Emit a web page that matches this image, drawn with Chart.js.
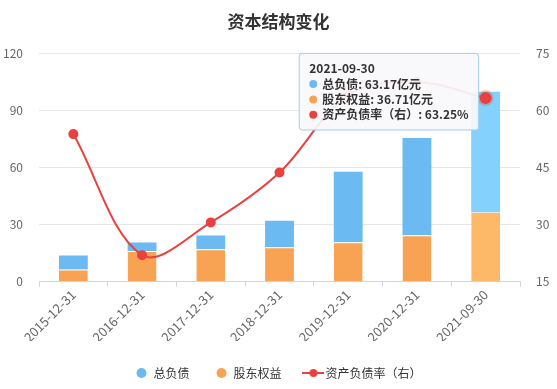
<!DOCTYPE html>
<html>
<head>
<meta charset="utf-8">
<script src="https://cdn.jsdelivr.net/npm/chart.js@4/dist/chart.umd.min.js"></script>
<style>
  html, body { margin: 0; padding: 0; background: #fff; }
  #box { width: 557px; height: 389px; }
</style>
</head>
<body>
<div id="box"><canvas id="myChart"></canvas></div>
<script>
// данные с картинки
const labels = ['2015-12-31', '2016-12-31', '2017-12-31', '2018-12-31', '2019-12-31', '2020-12-31', '2021-09-30'];
const debt = [7.4, 4.4, 7.2, 13.9, 37.0, 51.1, 63.17];       // 总负债, 亿元
const equity = [6.4, 16.2, 17.1, 18.2, 20.8, 24.5, 36.71];   // 股东权益, 亿元
const ratio = [53.8, 22.0, 30.6, 43.7, 64.0, 67.5, 63.25];   // 资产负债率, %
const leftTicks = [0, 30, 60, 90, 120];
const rightTicks = [15, 30, 45, 60, 75];

const font = '"Noto Sans CJK SC", "Microsoft YaHei", sans-serif';
const legendOrder = ['总负债', '股东权益', '资产负债率（右）'];

// значок для легенды линии: линия с точкой
const lineIcon = document.createElement('canvas');
lineIcon.width = 22;
lineIcon.height = 10;
(function () {
   const c = lineIcon.getContext('2d');
   c.strokeStyle = '#e8413f';
   c.lineWidth = 2;
   c.beginPath();
   c.moveTo(0, 5);
   c.lineTo(22, 5);
   c.stroke();
   c.fillStyle = '#e8413f';
   c.beginPath();
   c.arc(11, 5, 4, 0, Math.PI * 2);
   c.fill();
})();

// тултип прижат к верху области графика, слева от точки
Chart.Tooltip.positioners.fixedTop = function (items) {
   if (!items.length) return false;
   const pt = items[items.length - 1].element;
   return { x: pt.x - 10, y: this.chart.chartArea.top };
};

const ctx = document.getElementById('myChart').getContext('2d');

const chart = new Chart(ctx, {
   type: 'bar',
   data: {
      labels: labels,
      datasets: [
         {
            label: '股东权益',
            data: equity,
            backgroundColor: '#f8a254',
            hoverBackgroundColor: '#fdb868',
            borderColor: '#ffffff',
            borderWidth: { top: 1, left: 0, right: 0, bottom: 0 },
            borderSkipped: false,
            stack: 's',
            yAxisID: 'y',
            order: 1,
            barPercentage: 0.42,
            categoryPercentage: 1
         },
         {
            label: '总负债',
            data: debt,
            backgroundColor: '#6bbaf1',
            hoverBackgroundColor: '#85d1fd',
            borderWidth: 0,
            stack: 's',
            yAxisID: 'y',
            order: 1,
            barPercentage: 0.42,
            categoryPercentage: 1
         },
         {
            type: 'line',
            label: '资产负债率（右）',
            data: ratio,
            yAxisID: 'y1',
            borderColor: '#e8413f',
            backgroundColor: '#e8413f',
            borderWidth: 2,
            tension: 0.35,
            pointRadius: 4,
            pointHoverRadius: 6,
            pointHoverBorderWidth: 4,
            pointHoverBorderColor: 'rgba(232,65,63,0.3)',
            pointHoverBackgroundColor: '#e8413f',
            order: 0
         }
      ]
   },
   options: {
      responsive: true,
      maintainAspectRatio: false,
      animation: false,
      events: [],
      layout: { padding: 0 },
      scales: {
         x: {
            stacked: true,
            afterFit: (axis) => { axis.height -= 4; },
            grid: {
               display: true,
               drawOnChartArea: false,
               color: '#ccd6eb',
               tickLength: 5,
               offset: true
            },
            border: { color: '#ccd6eb' },
            ticks: {
               color: '#666',
               font: { family: font, size: 13 },
               maxRotation: 45,
               minRotation: 45,
               padding: 0
            }
         },
         y: {
            stacked: true,
            position: 'left',
            min: 0,
            max: 120,
            afterBuildTicks: (axis) => { axis.ticks = leftTicks.map(v => ({ value: v })); },
            afterFit: (axis) => { axis.width = 39; },
            grid: { color: '#e6e6e6', drawTicks: false },
            border: { display: false },
            ticks: { color: '#666', font: { family: font, size: 12 }, padding: 16 }
         },
         y1: {
            position: 'right',
            min: 15,
            max: 75,
            afterBuildTicks: (axis) => { axis.ticks = rightTicks.map(v => ({ value: v })); },
            afterFit: (axis) => { axis.width = 37; },
            grid: { drawOnChartArea: false, drawTicks: false },
            border: { display: false },
            ticks: { color: '#666', font: { family: font, size: 12 }, padding: 16 }
         }
      },
      plugins: {
         title: {
            display: true,
            text: '资本结构变化',
            color: '#333',
            font: { family: font, size: 17, weight: 'bold' },
            padding: { top: 11, bottom: 22 }
         },
         legend: {
            position: 'bottom',
            labels: {
               usePointStyle: true,
               boxHeight: 7,
               boxWidth: 12,
               padding: 26,
               color: '#333',
               font: { family: font, size: 12 },
               sort: (a, b) => legendOrder.indexOf(a.text) - legendOrder.indexOf(b.text),
               generateLabels: (ch) => {
                  const items = Chart.defaults.plugins.legend.labels.generateLabels(ch);
                  items.forEach(it => {
                     it.lineWidth = 0;
                     it.pointStyle = it.text === '资产负债率（右）' ? lineIcon : 'circle';
                  });
                  return items;
               }
            }
         },
         tooltip: {
            enabled: true,
            position: 'fixedTop',
            xAlign: 'right',
            yAlign: 'top',
            caretSize: 0,
            caretPadding: 0,
            cornerRadius: 3,
            backgroundColor: 'rgba(248,249,251,0.92)',
            borderColor: '#9fcdf0',
            borderWidth: 1,
            titleColor: '#333',
            bodyColor: '#333',
            titleFont: { family: font, size: 12, weight: 'bold' },
            bodyFont: { family: font, size: 12, weight: 'bold' },
            titleMarginBottom: 1,
            bodySpacing: 1,
            padding: { left: 10, right: 10, top: 8, bottom: 8 },
            usePointStyle: true,
            boxWidth: 8,
            boxHeight: 8,
            boxPadding: 3,
            itemSort: (a, b) => legendOrder.indexOf(a.dataset.label) - legendOrder.indexOf(b.dataset.label),
            callbacks: {
               label: (c) => {
                  if (c.dataset.type === 'line') return c.dataset.label + ': ' + c.parsed.y.toFixed(2) + '%';
                  return c.dataset.label + ': ' + c.parsed.y.toFixed(2) + '亿元';
               },
               labelPointStyle: () => ({ pointStyle: 'circle', rotation: 0 }),
               labelColor: (c) => ({
                  borderColor: 'rgba(0,0,0,0)',
                  backgroundColor: c.dataset.label === '总负债' ? '#6bbaf1' : (c.dataset.label === '股东权益' ? '#f8a254' : '#e8413f'),
                  borderWidth: 0
               })
            }
         }
      }
   }
});

// показываем выделенный последний период, как на картинке
const last = labels.length - 1;
const active = [0, 1, 2].map(i => ({ datasetIndex: i, index: last }));
chart.setActiveElements(active);
chart.tooltip.setActiveElements(active, { x: 0, y: 0 });
chart.update();
</script>
</body>
</html>
